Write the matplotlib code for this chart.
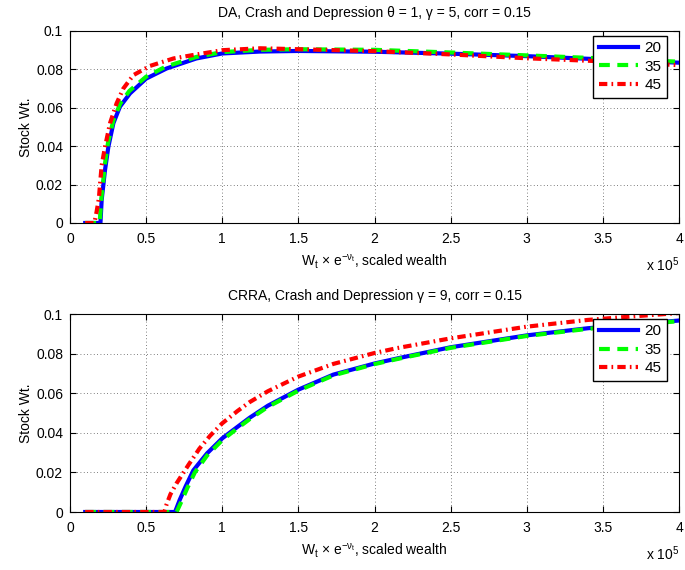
import matplotlib
matplotlib.use('Agg')
import matplotlib.pyplot as plt
import numpy as np

plt.rcParams['font.family'] = ['Liberation Sans', 'DejaVu Sans']
plt.rcParams['mathtext.fontset'] = 'custom'
plt.rcParams['mathtext.rm'] = 'Liberation Sans'
plt.rcParams['mathtext.it'] = 'Liberation Sans'
plt.rcParams['mathtext.bf'] = 'Liberation Sans:bold'

# wealth in units of 1e5
labels = ['20', '35', '45']
colors = ['#0000ff', '#00ff00', '#ff0000']
dashes = [None, (2.6, 1.8), (2.0, 1.0, 0.4, 1.0)]

# top panel: DA preferences
x_da_20 = [0.1, 0.2, 0.208, 0.23, 0.252, 0.285, 0.328, 0.394, 0.5, 0.635, 0.83, 1.0, 1.25, 1.5, 2.0, 2.5, 3.0, 3.5, 4.0]
y_da_20 = [0, 0, 0.012, 0.0276, 0.0397, 0.052, 0.0606, 0.0675, 0.0752, 0.0805, 0.0857, 0.0883, 0.0893, 0.0896, 0.0892, 0.0882, 0.0869, 0.0852, 0.0835]
x_da_35 = [0.1, 0.195, 0.205, 0.23, 0.25, 0.285, 0.33, 0.39, 0.5, 0.63, 0.83, 1.0, 1.25, 1.5, 2.0, 2.5, 3.0, 3.5, 4.0]
y_da_35 = [0, 0, 0.012, 0.031, 0.042, 0.0535, 0.0622, 0.0688, 0.0762, 0.0815, 0.0865, 0.089, 0.0902, 0.0905, 0.0902, 0.0888, 0.0873, 0.0857, 0.084]
x_da_45 = [0.1, 0.16, 0.175, 0.19, 0.197, 0.208, 0.23, 0.263, 0.306, 0.35, 0.416, 0.525, 0.68, 0.81, 1.0, 1.25, 1.5, 2.0, 2.5, 3.0, 3.5, 4.0]
y_da_45 = [0, 0, 0.006, 0.013, 0.02, 0.03, 0.0397, 0.052, 0.0623, 0.07, 0.077, 0.0818, 0.0857, 0.0875, 0.09, 0.091, 0.0905, 0.0895, 0.0878, 0.0858, 0.0842, 0.0822]

# bottom panel: CRRA preferences
x_cr_20 = [0.1, 0.69, 0.72, 0.76, 0.81, 0.9, 1.0, 1.1, 1.18, 1.3, 1.5, 1.73, 2.0, 2.17, 2.5, 3.0, 3.4, 4.0]
y_cr_20 = [0, 0, 0.006, 0.013, 0.021, 0.0296, 0.0372, 0.0430, 0.0476, 0.0537, 0.0618, 0.0694, 0.075, 0.0779, 0.0832, 0.0892, 0.0928, 0.0967]
x_cr_35 = [0.1, 0.7, 0.73, 0.77, 0.82, 0.9, 1.0, 1.1, 1.18, 1.3, 1.5, 1.73, 2.0, 2.17, 2.5, 3.0, 3.4, 4.0]
y_cr_35 = [0, 0, 0.005, 0.012, 0.02, 0.0285, 0.0363, 0.0423, 0.0469, 0.0531, 0.0613, 0.069, 0.0747, 0.0776, 0.0829, 0.0889, 0.0925, 0.0964]
x_cr_45 = [0.1, 0.62, 0.635, 0.66, 0.7, 0.78, 0.85, 0.92, 1.0, 1.1, 1.18, 1.3, 1.5, 1.73, 2.0, 2.15, 2.5, 3.0, 3.4, 3.7, 4.0]
y_cr_45 = [0, 0, 0.004, 0.009, 0.0145, 0.024, 0.032, 0.0385, 0.0448, 0.051, 0.0555, 0.061, 0.0684, 0.0748, 0.0803, 0.0828, 0.0877, 0.0936, 0.097, 0.0988, 0.1005]

xticks = [0, 0.5, 1, 1.5, 2, 2.5, 3, 3.5, 4]
yticks = [0, 0.02, 0.04, 0.06, 0.08, 0.1]

fig = plt.figure(figsize=(6.85, 5.7), dpi=100)
ax1 = fig.add_axes([70/685, 1-223/570, 609/685, 192/570])
ax2 = fig.add_axes([70/685, 1-512/570, 609/685, 198/570])

panels = [
    (ax1, [(x_da_20, y_da_20), (x_da_35, y_da_35), (x_da_45, y_da_45)],
     'DA, Crash and Depression θ = 1, γ = 5, corr = 0.15'),
    (ax2, [(x_cr_20, y_cr_20), (x_cr_35, y_cr_35), (x_cr_45, y_cr_45)],
     'CRRA, Crash and Depression γ = 9, corr = 0.15'),
]

for ax, series, title in panels:
    for (xs, ys), lab, c, d in zip(series, labels, colors, dashes):
        ln, = ax.plot(xs, ys, color=c, lw=3, label=lab)
        if d is not None:
            ln.set_dashes(d)
    ax.set_xlim(0, 4)
    ax.set_ylim(0, 0.1)
    ax.set_xticks(xticks)
    ax.set_xticklabels(['%g' % t for t in xticks])
    ax.set_yticks(yticks)
    ax.set_yticklabels(['%g' % t for t in yticks])
    ax.tick_params(direction='in', length=4, labelsize=10, top=True, right=True)
    ax.tick_params(axis='x', pad=6.5)
    ax.tick_params(axis='y', pad=5)
    ax.grid(True, linestyle=(0, (1, 3)), color='#555555', lw=0.6)
    for s in ax.spines.values():
        s.set_linewidth(0.8)
    ax.set_title(title, fontsize=10, pad=10)
    ax.set_ylabel('Stock Wt.', fontsize=10, labelpad=2)
    ax.set_xlabel(r'W$_\mathregular{t}$ × e$^{-\nu_{\mathregular{t}}}$, scaled wealth', fontsize=10, labelpad=4.5)
    ax.annotate(r'x 10$^\mathregular{5}$', xy=(1.0, 0), xycoords='axes fraction',
                xytext=(0, -30), textcoords='offset points', ha='right', va='center', fontsize=10)
    leg = ax.legend(loc='upper right', bbox_to_anchor=(0.98, 0.975), fontsize=11, fancybox=False,
                    edgecolor='black', framealpha=1, handlelength=2.6, borderpad=0.35,
                    labelspacing=0.3, handletextpad=0.4, borderaxespad=0)
    leg.get_frame().set_linewidth(1.0)

fig.savefig('out.png', dpi=100)
